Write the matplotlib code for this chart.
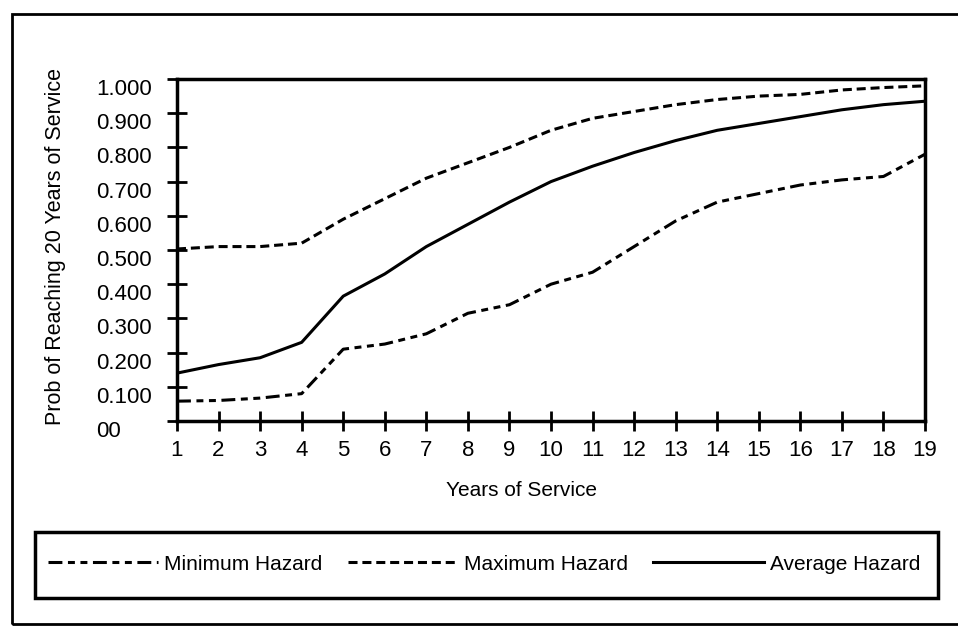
import matplotlib
matplotlib.use("Agg")
import matplotlib.pyplot as plt
from matplotlib.patches import Rectangle

plt.rcParams['font.family'] = ['Liberation Sans', 'DejaVu Sans']
plt.rcParams['lines.scale_dashes'] = False

years = list(range(1, 20))
min_hazard = [0.058, 0.060, 0.067, 0.080, 0.210, 0.225, 0.255, 0.315, 0.340, 0.400,
              0.435, 0.510, 0.585, 0.640, 0.665, 0.690, 0.705, 0.715, 0.780]
max_hazard = [0.503, 0.510, 0.510, 0.520, 0.590, 0.650, 0.710, 0.755, 0.800, 0.850,
              0.885, 0.905, 0.925, 0.940, 0.950, 0.955, 0.968, 0.975, 0.980]
avg_hazard = [0.140, 0.165, 0.185, 0.230, 0.365, 0.430, 0.510, 0.575, 0.640, 0.700,
              0.745, 0.785, 0.820, 0.850, 0.870, 0.890, 0.910, 0.925, 0.935]
y_ticks = [0.0, 0.1, 0.2, 0.3, 0.4, 0.5, 0.6, 0.7, 0.8, 0.9, 1.0]
y_labels = ['00', '0.100', '0.200', '0.300', '0.400', '0.500',
            '0.600', '0.700', '0.800', '0.900', '1.000']

W, H = 958, 629
fig = plt.figure(figsize=(W / 100, H / 100), dpi=100)
ax = fig.add_axes([177 / W, 1 - 421 / H, (925 - 177) / W, (421 - 79) / H])

l1, = ax.plot(years, min_hazard, color='black', lw=2.2,
              linestyle=(0, (10, 4, 5, 4, 5, 4)), label='Minimum Hazard')
l2, = ax.plot(years, max_hazard, color='black', lw=2.2,
              linestyle=(0, (6.5, 3.5)), label='Maximum Hazard')
l3, = ax.plot(years, avg_hazard, color='black', lw=2.2, label='Average Hazard')

ax.set_xlim(1, 19)
ax.set_ylim(0, 1)
ax.set_xticks(years)
ax.set_yticks(y_ticks)
ax.set_yticklabels(y_labels, ha='left', va='top')
for s in ax.spines.values():
    s.set_linewidth(2.5)
ax.tick_params(axis='both', direction='inout', length=14, width=2,
               labelsize=16, colors='black')
ax.tick_params(axis='y', pad=51)
ax.tick_params(axis='x', pad=7)

ax.set_xlabel('Years of Service', fontsize=15)
ax.xaxis.set_label_coords(0.46, -0.175)
ax.set_ylabel('Prob of Reaching 20 Years of Service', fontsize=15.5)
ax.yaxis.set_label_coords(-0.148, 0.51)

# outer frame
fig.patches.append(Rectangle((12 / W, 1 - 624 / H), 1.1, (624 - 14) / H,
                             transform=fig.transFigure, fill=False,
                             lw=2, edgecolor='black'))
# legend box
fig.patches.append(Rectangle((35 / W, 1 - 598 / H), (938 - 35) / W, (598 - 532) / H,
                             transform=fig.transFigure, fill=False,
                             lw=2.5, edgecolor='black'))

fig.legend(handles=[l1, l2, l3], loc='center', bbox_to_anchor=(484 / W, 1 - 564 / H),
           ncol=3, frameon=False, fontsize=15, handlelength=5.3,
           handletextpad=0.3, columnspacing=1.2)

fig.savefig('out.png', dpi=100)
